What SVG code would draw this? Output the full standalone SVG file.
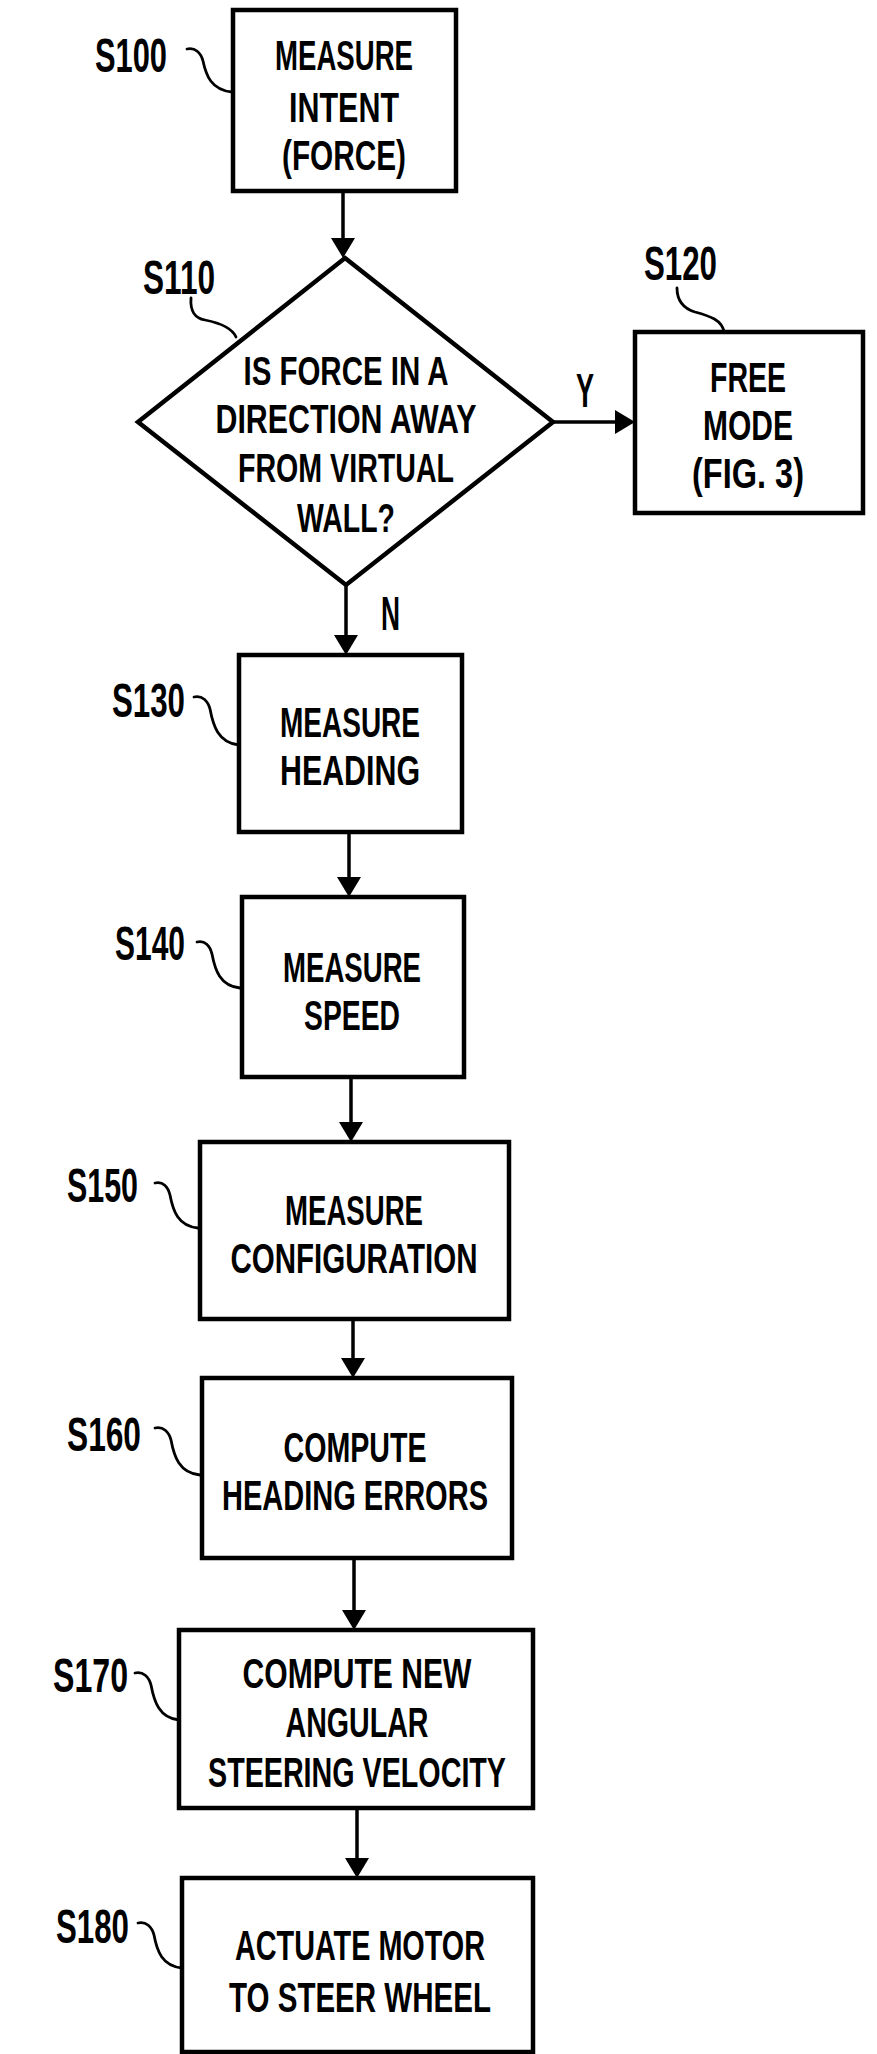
<svg xmlns="http://www.w3.org/2000/svg" width="877" height="2054" viewBox="0 0 877 2054">
<style>
.box{fill:#fff;stroke:#000;stroke-width:4.5}
.t{font-family:"Liberation Sans Narrow","Liberation Sans",Arial,sans-serif;font-weight:bold;font-size:43px;text-anchor:middle;fill:#000}
.d{font-size:40px}
.lbl{font-family:"Liberation Sans Narrow","Liberation Sans",Arial,sans-serif;font-weight:bold;font-size:48px;fill:#000}
.lead{fill:none;stroke:#000;stroke-width:2.8;stroke-linecap:round}
.con{fill:none;stroke:#000;stroke-width:3.5}
</style>
<defs>
<marker id="ah" markerUnits="userSpaceOnUse" viewBox="0 0 20 24" markerWidth="20" markerHeight="24" refX="12" refY="12" orient="auto">
<path d="M0,0 L20,12 L0,24 z" fill="#000"/>
</marker>
</defs>
<g id="connectors">
<line class="con" x1="343" y1="191" x2="343" y2="250" marker-end="url(#ah)"/>
<line class="con" x1="553" y1="422" x2="627" y2="422" marker-end="url(#ah)"/>
<line class="con" x1="346" y1="585" x2="346" y2="647" marker-end="url(#ah)"/>
<line class="con" x1="349" y1="832" x2="349" y2="889" marker-end="url(#ah)"/>
<line class="con" x1="351" y1="1077" x2="351" y2="1134" marker-end="url(#ah)"/>
<line class="con" x1="353" y1="1319" x2="353" y2="1370" marker-end="url(#ah)"/>
<line class="con" x1="354" y1="1558" x2="354" y2="1622" marker-end="url(#ah)"/>
<line class="con" x1="357" y1="1808" x2="357" y2="1870" marker-end="url(#ah)"/>
<text class="lbl" x="576" y="407" textLength="18" lengthAdjust="spacingAndGlyphs">Y</text>
<text class="lbl" x="381" y="630" font-size="46" textLength="19" lengthAdjust="spacingAndGlyphs">N</text>
</g>
<g id="S100">
<rect class="box" x="233" y="10" width="223" height="181"/>
<text class="t" x="344" y="70" textLength="138" lengthAdjust="spacingAndGlyphs">MEASURE</text>
<text class="t" x="344" y="122" textLength="110" lengthAdjust="spacingAndGlyphs">INTENT</text>
<text class="t" x="344" y="170" textLength="124" lengthAdjust="spacingAndGlyphs">(FORCE)</text>
<text class="lbl" x="95" y="72" textLength="72" lengthAdjust="spacingAndGlyphs">S100</text>
<path class="lead" d="M187,49 c8,-2 14,4 16,12 c3,14 8,29 29,31"/>
</g>
<g id="S110">
<polygon class="box" points="345,258 553,422 346,585 138,422"/>
<text class="t d" x="346" y="385" textLength="205" lengthAdjust="spacingAndGlyphs">IS FORCE IN A</text>
<text class="t d" x="346" y="433" textLength="261" lengthAdjust="spacingAndGlyphs">DIRECTION AWAY</text>
<text class="t d" x="346" y="482" textLength="216" lengthAdjust="spacingAndGlyphs">FROM VIRTUAL</text>
<text class="t d" x="346" y="532" textLength="98" lengthAdjust="spacingAndGlyphs">WALL?</text>
<text class="lbl" x="143" y="294" textLength="72" lengthAdjust="spacingAndGlyphs">S110</text>
<path class="lead" d="M191,298 c-1,14 4,20 14,22 c15,3 27,8 31,17"/>
</g>
<g id="S120">
<rect class="box" x="635" y="332" width="228" height="181"/>
<text class="t" x="748" y="392" textLength="76" lengthAdjust="spacingAndGlyphs">FREE</text>
<text class="t" x="748" y="440" textLength="90" lengthAdjust="spacingAndGlyphs">MODE</text>
<text class="t" x="748" y="488" textLength="112" lengthAdjust="spacingAndGlyphs">(FIG. 3)</text>
<text class="lbl" x="644" y="280" textLength="73" lengthAdjust="spacingAndGlyphs">S120</text>
<path class="lead" d="M677,288 c0,12 5,20 18,24 c15,4 27,8 29,20"/>
</g>
<g id="S130">
<rect class="box" x="239" y="655" width="223" height="177"/>
<text class="t" x="350" y="737" textLength="140" lengthAdjust="spacingAndGlyphs">MEASURE</text>
<text class="t" x="350" y="785" textLength="140" lengthAdjust="spacingAndGlyphs">HEADING</text>
<text class="lbl" x="112" y="717" textLength="73" lengthAdjust="spacingAndGlyphs">S130</text>
<path class="lead" d="M194,697 c8,-2 14,4 16,12 c3,16 8,34 29,36"/>
</g>
<g id="S140">
<rect class="box" x="242" y="897" width="222" height="180"/>
<text class="t" x="352" y="982" textLength="138" lengthAdjust="spacingAndGlyphs">MEASURE</text>
<text class="t" x="352" y="1030" textLength="96" lengthAdjust="spacingAndGlyphs">SPEED</text>
<text class="lbl" x="115" y="960" textLength="70" lengthAdjust="spacingAndGlyphs">S140</text>
<path class="lead" d="M197,942 c8,-2 13,4 15,12 c3,16 8,32 28,34"/>
</g>
<g id="S150">
<rect class="box" x="200" y="1142" width="309" height="177"/>
<text class="t" x="354" y="1225" textLength="138" lengthAdjust="spacingAndGlyphs">MEASURE</text>
<text class="t" x="354" y="1273" textLength="247" lengthAdjust="spacingAndGlyphs">CONFIGURATION</text>
<text class="lbl" x="67" y="1202" textLength="71" lengthAdjust="spacingAndGlyphs">S150</text>
<path class="lead" d="M155,1183 c8,-2 13,4 15,12 c3,16 8,31 28,33"/>
</g>
<g id="S160">
<rect class="box" x="202" y="1378" width="310" height="180"/>
<text class="t" x="355" y="1462" textLength="143" lengthAdjust="spacingAndGlyphs">COMPUTE</text>
<text class="t" x="355" y="1510" textLength="266" lengthAdjust="spacingAndGlyphs">HEADING ERRORS</text>
<text class="lbl" x="67" y="1451" textLength="74" lengthAdjust="spacingAndGlyphs">S160</text>
<path class="lead" d="M155,1428 c8,-2 14,4 16,12 c3,16 8,33 29,35"/>
</g>
<g id="S170">
<rect class="box" x="179" y="1630" width="354" height="178"/>
<text class="t" x="357" y="1688" textLength="229" lengthAdjust="spacingAndGlyphs">COMPUTE NEW</text>
<text class="t" x="357" y="1737" textLength="143" lengthAdjust="spacingAndGlyphs">ANGULAR</text>
<text class="t" x="357" y="1787" textLength="298" lengthAdjust="spacingAndGlyphs">STEERING VELOCITY</text>
<text class="lbl" x="53" y="1692" textLength="75" lengthAdjust="spacingAndGlyphs">S170</text>
<path class="lead" d="M135,1673 c8,-2 14,4 16,12 c3,16 8,33 28,35"/>
</g>
<g id="S180">
<rect class="box" x="182" y="1878" width="351" height="174"/>
<text class="t" x="360" y="1960" textLength="250" lengthAdjust="spacingAndGlyphs">ACTUATE MOTOR</text>
<text class="t" x="360" y="2012" textLength="262" lengthAdjust="spacingAndGlyphs">TO STEER WHEEL</text>
<text class="lbl" x="56" y="1943" textLength="73" lengthAdjust="spacingAndGlyphs">S180</text>
<path class="lead" d="M138,1923 c8,-2 14,4 16,12 c3,16 8,31 28,33"/>
</g>
</svg>
